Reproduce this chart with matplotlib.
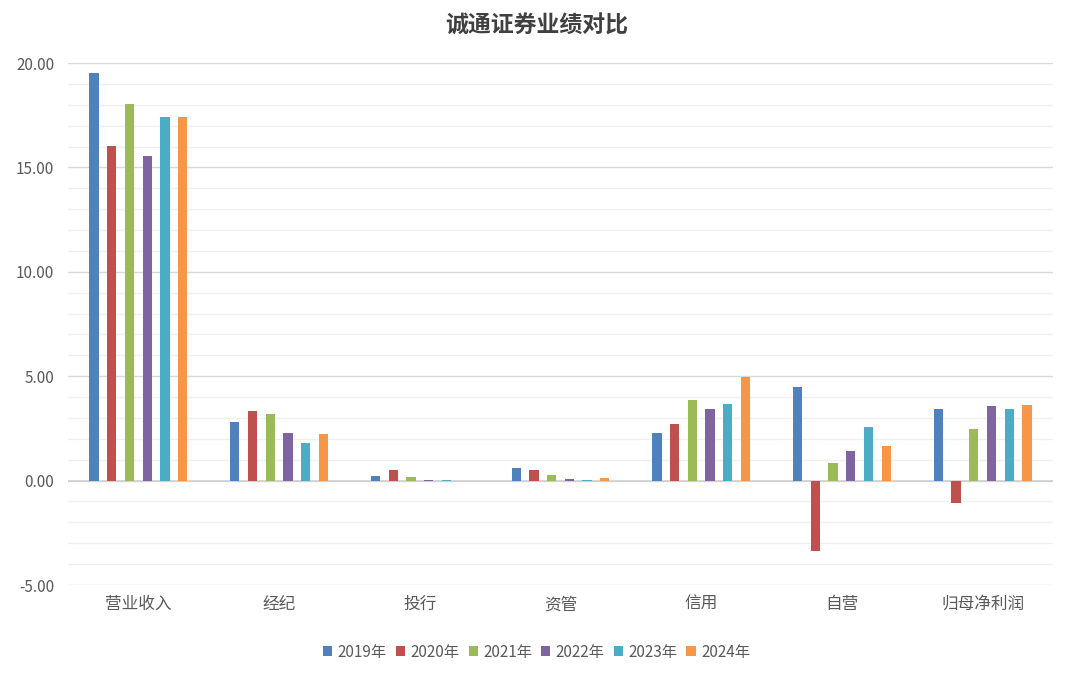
import matplotlib
matplotlib.use("Agg")
import matplotlib.pyplot as plt
import numpy as np
from matplotlib.ticker import MultipleLocator, FormatStrFormatter

plt.rcParams['font.family'] = ['Noto Sans CJK SC', 'DejaVu Sans']

categories = ['营业收入', '经纪', '投行', '资管', '信用', '自营', '归母净利润']
series_names = ['2019年', '2020年', '2021年', '2022年', '2023年', '2024年']
v2019 = [19.52, 2.83, 0.24, 0.62, 2.30, 4.46, 3.45]
v2020 = [16.02, 3.31, 0.53, 0.53, 2.73, -3.36, -1.06]
v2021 = [18.03, 3.21, 0.19, 0.29, 3.88, 0.82, 2.49]
v2022 = [15.54, 2.30, 0.05, 0.10, 3.45, 1.44, 3.55]
v2023 = [17.41, 1.82, 0.05, 0.05, 3.65, 2.59, 3.41]
v2024 = [17.40, 2.21, 0.00, 0.14, 4.94, 1.68, 3.60]
values = [v2019, v2020, v2021, v2022, v2023, v2024]
colors = ['#4F81BD', '#C0504D', '#9BBB59', '#8064A2', '#4BACC6', '#F79646']

fig = plt.figure(figsize=(10.73, 6.78), dpi=100)
ax = fig.add_axes([68/1073, 1 - 585/678, (1053-68)/1073, (585-63)/678])

x = np.arange(len(categories))
pitch = 0.126
width = 0.066
for i, (name, vals, c) in enumerate(zip(series_names, values, colors)):
    ax.bar(x + (i - 2.5) * pitch, vals, width=width, color=c, label=name, zorder=3)

ax.set_xlim(-0.5, len(categories) - 0.5)
ax.set_ylim(-5, 20)
ax.yaxis.set_major_locator(MultipleLocator(5))
ax.yaxis.set_minor_locator(MultipleLocator(1))
ax.yaxis.set_major_formatter(FormatStrFormatter('%.2f'))
ax.grid(axis='y', which='major', color='#D9D9D9', linewidth=1.0, zorder=0)
ax.grid(axis='y', which='minor', color='#F0F0F0', linewidth=1.0, zorder=0)
ax.axhline(0, color='#D0D0D0', linewidth=1.2, zorder=2)
for s in ax.spines.values():
    s.set_visible(False)
ax.tick_params(axis='both', which='both', length=0)
ax.tick_params(axis='y', labelsize=11, labelcolor='#595959', pad=10)
ax.set_xticks(x)
ax.set_xticklabels(categories, fontsize=12, color='#595959')
ax.tick_params(axis='x', pad=8)

fig.text(0.5, 1 - 26/678, '诚通证券业绩对比', ha='center', va='center',
         fontsize=16.5, fontweight='bold', color='#404040')

handles, labels = ax.get_legend_handles_labels()
fig.legend(handles, labels, loc='center', bbox_to_anchor=(0.5, 1 - 652/678), ncol=6,
           frameon=False, fontsize=11, handlelength=0.6, handleheight=0.6,
           handletextpad=0.35, columnspacing=0.6, labelcolor='#595959')

fig.savefig('out.png', dpi=100)
